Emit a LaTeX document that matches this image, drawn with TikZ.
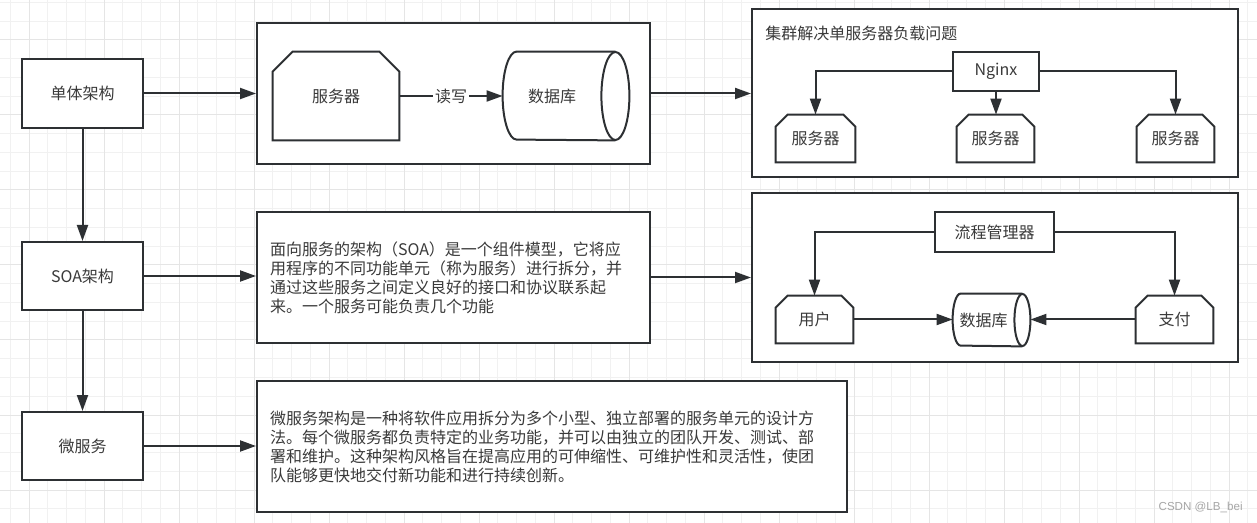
\documentclass[tikz,border=0pt]{standalone}
\usepackage{fontspec}
\setmainfont{Noto Sans CJK SC}
\newfontfamily\markfont{Liberation Sans}
\usetikzlibrary{arrows.meta}
\definecolor{ink}{HTML}{2D3033}
\definecolor{txt}{HTML}{3A3A3A}
\definecolor{gridminor}{HTML}{F1F1F1}
\definecolor{gridmajor}{HTML}{E5E5E5}
\tikzset{
	line/.style = {draw=ink, line width=1pt},
	arr/.style = {line, -{Triangle[length=8pt, width=5.5pt]}},
	box/.style = {line, fill=white, text=txt, inner sep=0pt},
	txtbox/.style = {box, align=left, inner xsep=6.5pt},
	srv/.style = {text=txt, inner sep=0pt}
}
% outline of a server node: top corners cut off
\newcommand\srvline[2]{\draw[line] ([yshift=-#2]#1.north west) -- ([xshift=#2]#1.north west) -- ([xshift=-#2]#1.north east) -- ([yshift=-#2]#1.north east) -- (#1.south east) -- (#1.south west) -- cycle;}
% outline of a database node: lying cylinder, x radius #2, y radius #3
\newcommand\dbline[3]{
	\draw[line] ([xshift=-#2]#1.east) ellipse[x radius=#2, y radius=#3];
	\draw[line] ([xshift=-#2]#1.north east) -- ([xshift=#2]#1.north west) arc[start angle=90, end angle=270, x radius=#2, y radius=#3] -- ([xshift=-#2]#1.south east);
}
\begin{document}
\begin{tikzpicture}[x=0.5pt, y=-0.5pt, font=\fontsize{8}{9.5}\selectfont]
	\useasboundingbox[fill=white] (0,0) rectangle (1257,523);
	\foreach \i in {0,...,66} \draw[gridminor, line width=0.5pt] ({10.25+18.75*\i},0) -- ({10.25+18.75*\i},523);
	\foreach \j in {0,...,27} \draw[gridminor, line width=0.5pt] (0,{2.5+18.75*\j}) -- (1257,{2.5+18.75*\j});
	\foreach \i in {0,...,16} \draw[gridmajor, line width=0.5pt] ({29+75*\i},0) -- ({29+75*\i},523);
	\foreach \j in {0,...,6} \draw[gridmajor, line width=0.5pt] (0,{40+75*\j}) -- (1257,{40+75*\j});

	\node[box, minimum width=60.5pt, minimum height=34.5pt] (mono) at (82.5,93.5) {单体架构};
	\node[box, minimum width=60.5pt, minimum height=34pt] (soa) at (82.5,276) {SOA架构};
	\node[box, minimum width=60.5pt, minimum height=34pt] (micro) at (82.5,446) {微服务};
	\draw[arr] (mono) -- (soa);
	\draw[arr] (soa) -- (micro);

	% monolith
	\node[box, minimum width=196.5pt, minimum height=70.5pt] (monobox) at (453.5,93.5) {};
	\node[srv, minimum width=63pt, minimum height=44pt] (srv) at (336,96) {服务器};
	\srvline{srv}{10pt}
	\node[srv, minimum width=63pt, minimum height=44pt] (db) at (566,96) {数据库\kern14pt};
	\dbline{db}{7pt}{22pt}
	\draw[arr] (srv) -- (db) node[midway, fill=white, text=txt, inner sep=1pt] {读写};

	% cluster
	\node[box, minimum width=243pt, minimum height=84pt] (clusterbox) at (995,93) {};
	\node[text=txt, anchor=west, inner sep=0pt] (clustertitle) at (765,33) {集群解决单服务器负载问题};
	\node[box, minimum width=43pt, minimum height=19.5pt] (nginx) at (996,71.5) {Nginx};
	\node[srv, minimum width=39.5pt, minimum height=23.5pt] (s1) at (815.5,138.5) {服务器};
	\node[srv, minimum width=38.5pt, minimum height=23.5pt] (s2) at (995.5,138.5) {服务器};
	\node[srv, minimum width=38.5pt, minimum height=23.5pt] (s3) at (1175.5,138.5) {服务器};
	\srvline{s1}{6pt}
	\srvline{s2}{6pt}
	\srvline{s3}{6pt}
	\draw[arr] (nginx.west) -| (s1.north);
	\draw[arr] (nginx.south) -- (nginx.south |- s2.north);
	\draw[arr] (nginx.east) -| (s3.north);

	% SOA
	\node[txtbox, text width=183.5pt, minimum height=65.5pt] (soabox) at (453.5,277.5) {面向服务的架构（SOA）是一个组件模型，它将应\\用程序的不同功能单元（称为服务）进行拆分，并\\通过这些服务之间定义良好的接口和协议联系起\\来。一个服务可能负责几个功能};
	\node[box, minimum width=243pt, minimum height=84.5pt] (flowbox) at (995,277.5) {};
	\node[box, minimum width=59.5pt, minimum height=20pt] (mgr) at (994.5,232) {流程管理器};
	\node[srv, minimum width=38.5pt, minimum height=23.5pt] (user) at (814.5,319.5) {用户};
	\node[srv, minimum width=38.5pt, minimum height=23.5pt] (pay) at (1174.5,319.5) {支付};
	\srvline{user}{6pt}
	\srvline{pay}{6pt}
	\node[srv, minimum width=38.5pt, minimum height=26pt] (db2) at (991.5,320) {数据库\kern8pt};
	\dbline{db2}{4pt}{13pt}
	\draw[arr] (mgr.west) -| (user.north);
	\draw[arr] (mgr.east) -| (pay.north);
	\draw[arr] (user.east) -- (user.east -| db2.west);
	\draw[arr] (pay.west) -- (pay.west -| db2.east);

	% microservices
	\node[txtbox, text width=282pt, minimum height=65.5pt] (microbox) at (552,446.5) {微服务架构是一种将软件应用拆分为多个小型、独立部署的服务单元的设计方\\法。每个微服务都负责特定的业务功能，并可以由独立的团队开发、测试、部\\署和维护。这种架构风格旨在提高应用的可伸缩性、可维护性和灵活性，使团\\队能够更快地交付新功能和进行持续创新。};

	\draw[arr] (mono) -- (monobox);
	\draw[arr] (monobox) -- (clusterbox.west |- monobox);
	\draw[arr] (soa) -- (soa -| soabox.west);
	\draw[arr] (soabox) -- (flowbox.west |- soabox);
	\draw[arr] (micro) -- (micro -| microbox.west);

	\node[text=gray!70, font=\markfont\fontsize{5.8}{7}\selectfont, anchor=east, inner sep=0pt] (mark) at (1243,507) {CSDN @LB\_bei};
\end{tikzpicture}
\end{document}
